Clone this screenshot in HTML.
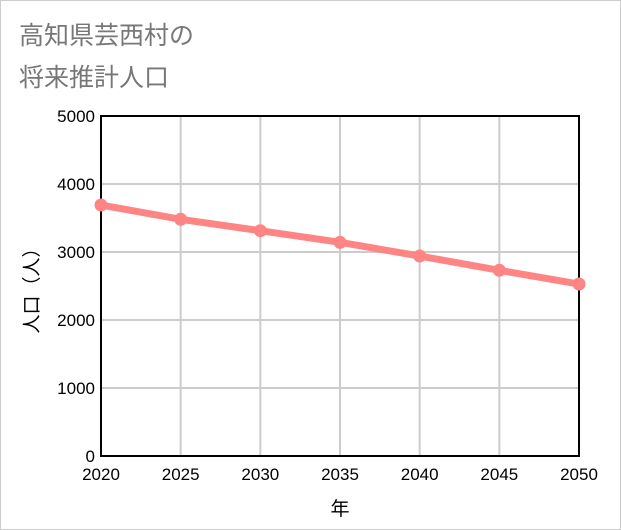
<!DOCTYPE html>
<html><head><meta charset="utf-8"><style>
body{margin:0;background:#fff;}
#wrap{position:relative;width:619px;height:528px;border:1px solid #ccc;background:#fff;font-family:"Liberation Sans","Noto Sans CJK JP",sans-serif;}
.title{position:absolute;left:18px;font-size:25px;color:#777;}
</style></head><body>
<div id="wrap">
<div class="title" style="top:15px">高知県芸西村の</div>
<div class="title" style="top:57px">将来推計人口</div>
<svg id="chart" width="621" height="530" style="position:absolute;left:-1px;top:-1px"></svg>
</div>
<script>
const years=[2020,2025,2030,2035,2040,2045,2050];
const population=[3691,3481,3313,3142,2941,2731,2529];
const yTicks=[0,1000,2000,3000,4000,5000];
const NS="http://www.w3.org/2000/svg";
const svg=document.getElementById('chart');
const L=101,R=579,T=116,B=456;
const xs=v=>L+(v-2020)/30*(R-L);
const ys=v=>B-v/5000*(B-T);
function mk(tag,attrs,name,parent){const e=document.createElementNS(NS,tag);for(const k in attrs)e.setAttribute(k,attrs[k]);


(parent||svg).appendChild(e);return e;}
yTicks.forEach(t=>{mk('line',{x1:L,x2:R,y1:ys(t),y2:ys(t),stroke:'#ccc','stroke-width':2},'y-gridline');
const tx=mk('text',{x:L-6,y:ys(t)+6,'text-anchor':'end','font-size':17,fill:'#000','font-family':'Liberation Sans, sans-serif'},'y-tick-label');tx.textContent=t;});
years.forEach(y=>{mk('line',{x1:xs(y),x2:xs(y),y1:T,y2:B,stroke:'#ccc','stroke-width':2},'x-gridline');
const tx=mk('text',{x:xs(y),y:480,'text-anchor':'middle','font-size':17,fill:'#000','font-family':'Liberation Sans, sans-serif'},'x-tick-label');tx.textContent=y;});
mk('rect',{x:L,y:T,width:R-L,height:B-T,fill:'none',stroke:'#000','stroke-width':2},'plot-area-border');
mk('polyline',{points:years.map((y,i)=>xs(y)+','+ys(population[i])).join(' '),fill:'none',stroke:'#ff8585','stroke-width':7},'population-line');
years.forEach((y,i)=>mk('circle',{cx:xs(y),cy:ys(population[i]),r:6.5,fill:'#ff8585'},'population-point'));
const xt=mk('text',{x:340,y:515,'text-anchor':'middle','font-size':19,fill:'#000','font-family':'Noto Sans CJK JP, sans-serif'},'x-axis-title');xt.textContent='年';
const yt=mk('text',{x:0,y:0,'text-anchor':'middle','font-size':19,fill:'#000','font-family':'Noto Sans CJK JP, sans-serif',transform:'translate(38,286) rotate(-90)'},'y-axis-title');yt.textContent='人口（人）';
</script>
</body></html>
